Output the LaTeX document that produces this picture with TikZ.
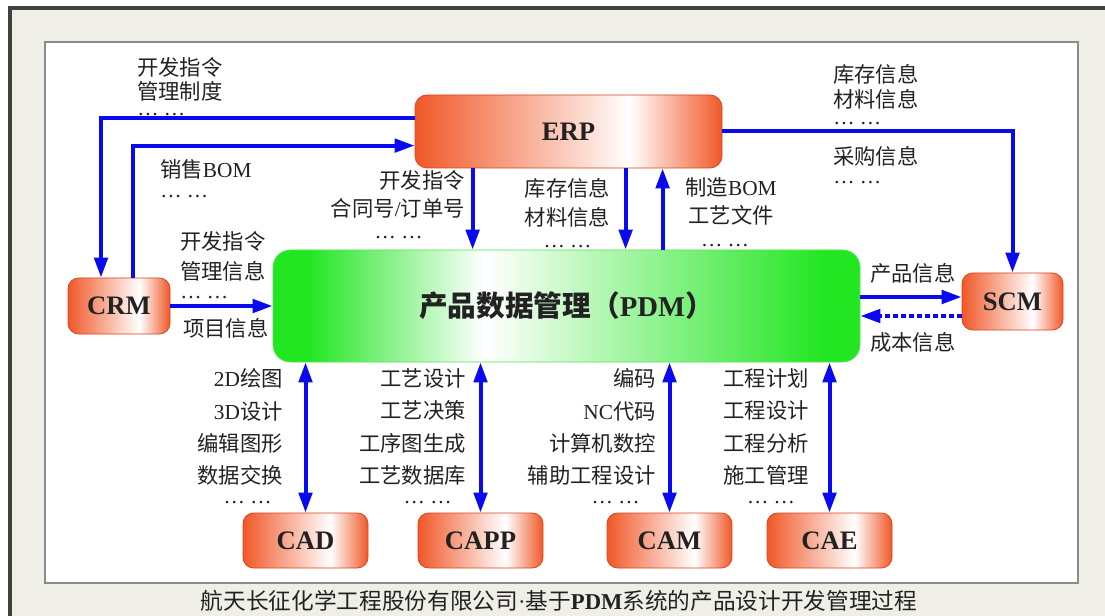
\documentclass[tikz,border=0pt]{standalone}
\usepackage{fontspec}
\setmainfont{Liberation Serif}
\newfontfamily\cjk{Noto Sans CJK SC}
\usetikzlibrary{arrows.meta}

\definecolor{boxred}{RGB}{240,88,40}
\definecolor{boxedge}{RGB}{222,66,32}
\definecolor{pdmgreen}{RGB}{34,230,34}
\definecolor{pdmedge}{RGB}{90,225,90}
\definecolor{flowblue}{RGB}{10,10,240}
\definecolor{paper}{RGB}{239,239,231}
\definecolor{ink}{RGB}{34,34,34}

\pgfdeclarehorizontalshading{redfade}{100bp}{color(0bp)=(boxred); color(25bp)=(boxred); color(60bp)=(white); color(75bp)=(boxred); color(100bp)=(boxred)}
\pgfdeclarehorizontalshading{greenfade}{100bp}{color(0bp)=(pdmgreen); color(28bp)=(pdmgreen); color(43bp)=(white); color(72bp)=(pdmgreen); color(100bp)=(pdmgreen)}

\newcommand\zh[1]{{\cjk #1}}
\newcommand\dd{… …}
\newcommand\pxl{0.75pt}

\tikzset{
  sysbox/.style={draw=boxedge, line width=0.6pt, rounded corners=8pt, shade, shading=redfade,
    font=\fontsize{20}{24}\selectfont\bfseries, text=ink,
    minimum width=125*\pxl, minimum height=55*\pxl, inner sep=0pt},
  lbl/.style={inner sep=0pt, text=ink, align=left, font=\fontsize{16}{18}\selectfont},
  flow/.style={draw=flowblue, line width=3pt, -{Triangle[length=15pt,width=10pt]}},
  both/.style={draw=flowblue, line width=3pt, {Triangle[length=15pt,width=10pt]}-{Triangle[length=15pt,width=10pt]}},
  dotflow/.style={flow, dash pattern=on 3.5pt off 2.5pt}
}

\begin{document}
\begin{tikzpicture}[x=0.75pt, y=-0.75pt]
\useasboundingbox (0,0) rectangle (1105,616);

% frame
\fill[white] (0,0) rectangle (1105,616);
\fill[paper] (10,8) rectangle (1105,616);
\draw[line width=2.5pt, black!75] (10,616) -- (10,8) -- (1105,8);
\draw[fill=white, draw=black!45, line width=1.5pt] (45,42) rectangle (1078,583);

% systems
\node[sysbox, minimum width=307*\pxl, minimum height=73*\pxl, rounded corners=9pt] (ERP) at (568.5,131.5) {ERP};
\node[draw=pdmedge, line width=0.6pt, rounded corners=13pt, shade, shading=greenfade, text=ink,
  minimum width=587*\pxl, minimum height=112*\pxl, font=\fontsize{21.5}{24}\selectfont]
  (PDM) at (566.5,306) {\zh{\bfseries 产品数据管理（}\textbf{PDM}\zh{\bfseries ）}};
\node[sysbox, minimum width=102*\pxl, minimum height=56*\pxl] (CRM) at (119,306) {CRM};
\node[sysbox, minimum width=101*\pxl, minimum height=57*\pxl] (SCM) at (1012.5,301.5) {SCM};
\node[sysbox] (CAD) at (305.5,540.5) {CAD};
\node[sysbox] (CAPP) at (480.5,540.5) {CAPP};
\node[sysbox] (CAM) at (669.5,540.5) {CAM};
\node[sysbox] (CAE) at (829.5,540.5) {CAE};

% connectors
\path (ERP.north west) ++(0,23) coordinate (e0);
\path (ERP.north west) ++(0,51) coordinate (e00);
\path (CRM.north) ++(-18,0) coordinate (c1);
\path (CRM.north) ++(14,0) coordinate (c2);
\draw[flow] (e0) -| (c1);
\draw[flow] (c2) |- (e00);
\draw[flow] (ERP.east) -| (SCM.north);

\path (ERP.south west) ++(58,0) coordinate (e1);
\path (ERP.south west) ++(211,0) coordinate (e2);
\path (ERP.south west) ++(248,0) coordinate (e3);
\draw[flow] (e1) -- (e1 |- PDM.north);
\draw[flow] (e2) -- (e2 |- PDM.north);
\draw[flow] (e3 |- PDM.north) -- (e3);

\draw[flow] (CRM.east) -- (PDM.west);
\path (SCM.west) ++(0,-4.5) coordinate (s1);
\path (SCM.west) ++(0,14.5) coordinate (s2);
\draw[flow] (s1 -| PDM.east) -- (s1);
\draw[dotflow] (s2) -- (s2 -| PDM.east);

\foreach \b in {CAD,CAPP,CAM,CAE}
  \draw[both] (\b.north) -- (\b.north |- PDM.south);

% labels
\node[lbl, anchor=north west, font=\fontsize{16}{18}\selectfont] (l-dev) at (137,57)
  {\zh{开发指令}\\\zh{管理制度}\\[-5.5pt]\dd};
\node[lbl, anchor=north west] (l-sale) at (160,159.5) {\zh{销售}BOM\\[-3pt]\dd};
\node[lbl, anchor=north east, align=right, font=\fontsize{16}{21}\selectfont] (l-order) at (465,170.5)
  {\zh{开发指令}\\\zh{合同号}/\zh{订单号}\\[-4.75pt]\dd\hspace*{31.5pt}};
\node[lbl, anchor=north, align=center, font=\fontsize{16}{21.75}\selectfont] (l-stock) at (567.5,178.5)
  {\zh{库存信息}\\\zh{材料信息}\\[-5.75pt]\dd};
\node[lbl, anchor=north, align=center, font=\fontsize{16}{21}\selectfont] (l-mbom) at (731,177)
  {\zh{制造}BOM\\\zh{工艺文件}\\[-3.75pt]\dd\hspace*{9pt}};
\node[lbl, anchor=north west, font=\fontsize{16}{18.75}\selectfont] (l-scm1) at (833,64)
  {\zh{库存信息}\\\zh{材料信息}\\[-6pt]\dd};
\node[lbl, anchor=north west] (l-scm2) at (833,146.5) {\zh{采购信息}\\[-4.25pt]\dd};
\node[lbl, anchor=north west, font=\fontsize{16}{22.5}\selectfont] (l-crm1) at (180,231.5)
  {\zh{开发指令}\\\zh{管理信息}\\[-8.5pt]\dd};
\node[lbl, anchor=north west] (l-crm2) at (183,318.5) {\zh{项目信息}};
\node[lbl, anchor=north west] (l-prod) at (870,263) {\zh{产品信息}};
\node[lbl, anchor=north west] (l-cost) at (870,332) {\zh{成本信息}};

\node[lbl, anchor=north east, align=right, font=\fontsize{16}{24.2}\selectfont] (l-cad) at (283,368.5)
  {2D\zh{绘图}\\3D\zh{设计}\\\zh{编辑图形}\\\zh{数据交换}\\[-9.25pt]\dd\hspace*{8.25pt}};
\node[lbl, anchor=north east, align=right, font=\fontsize{16}{24.2}\selectfont] (l-capp) at (466,368.5)
  {\zh{工艺设计}\\\zh{工艺决策}\\\zh{工序图生成}\\\zh{工艺数据库}\\[-9.25pt]\dd\hspace*{10.5pt}};
\node[lbl, anchor=north east, align=right, font=\fontsize{16}{24.2}\selectfont] (l-cam) at (656,368.5)
  {\zh{编码}\\NC\zh{代码}\\\zh{计算机数控}\\\zh{辅助工程设计}\\[-9.25pt]\dd\hspace*{12pt}};
\node[lbl, anchor=north, align=center, font=\fontsize{16}{24.2}\selectfont] (l-cae) at (766,368.5)
  {\zh{工程计划}\\\zh{工程设计}\\\zh{工程分析}\\\zh{施工管理}\\[-9.25pt]\hspace*{7.5pt}\dd};

% caption
\node[text=ink, inner sep=0pt, font=\fontsize{17}{20}\selectfont] (caption) at (559,601)
  {\zh{航天长征化学工程股份有限公司}·\zh{基于}\textbf{PDM}\zh{系统的产品设计开发管理过程}};
\end{tikzpicture}
\end{document}
